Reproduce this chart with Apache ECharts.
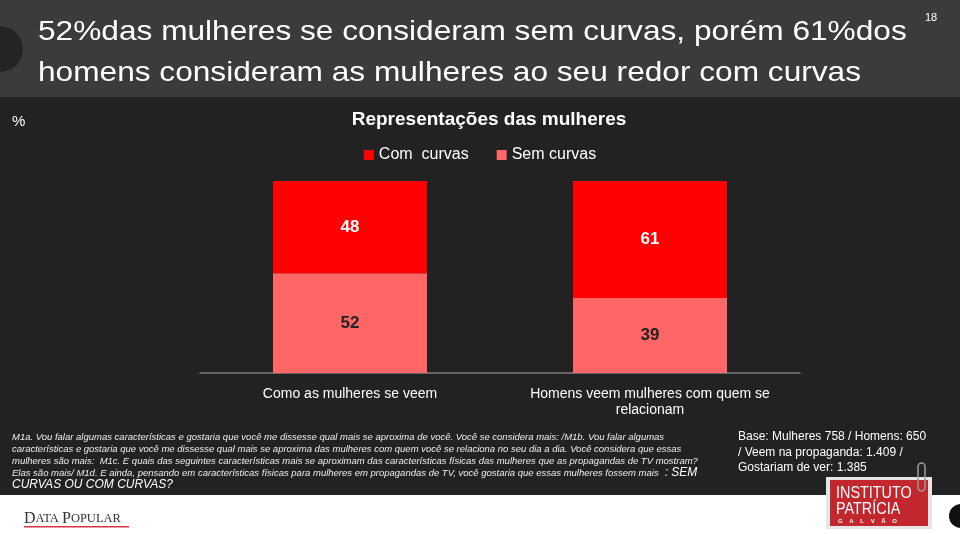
<!DOCTYPE html>
<html>
<head>
<meta charset="utf-8">
<script src="https://cdn.jsdelivr.net/npm/echarts@6/dist/echarts.min.js"></script>
<style>html,body{margin:0;padding:0;background:#222;}#c{width:960px;height:534px;}</style>
</head>
<body>
<div id="c"></div>
<script>
const categories = ['Como as mulheres se veem', 'Homens veem mulheres com quem se\nrelacionam'];
const seriesNames = ['Com  curvas', 'Sem curvas'];
const comCurvas = [48, 61];
const semCurvas = [52, 39];
const headerLines = ['52%das mulheres se consideram sem curvas, porém 61%dos', 'homens consideram as mulheres ao seu redor com curvas'];
const footnoteLines = [
  'M1a. Vou falar algumas características e gostaria que você me dissesse qual mais se aproxima de você. Você se considera mais: /M1b. Vou falar algumas',
  'características e gostaria que você me dissesse qual mais se aproxima das mulheres com quem você se relaciona no seu dia a dia. Você considera que essas',
  'mulheres são mais:  M1c. E quais das seguintes características mais se aproximam das características físicas das mulheres que as propagandas de TV mostram?',
  'Elas são mais/ M1d. E ainda, pensando em características físicas para mulheres em propagandas de TV, você gostaria que essas mulheres fossem mais {b| : SEM}',
  '{b|CURVAS OU COM CURVAS?}'
];
const baseLines = ['Base: Mulheres 758 / Homens: 650', '/ Veem na propaganda: 1.409 /', 'Gostariam de ver: 1.385'];

const chart = echarts.init(document.getElementById('c'));
const F = 'Liberation Sans, Arial, sans-serif';
const graphics = [
  {type:'rect', shape:{x:0,y:0,width:960,height:97}, style:{fill:'#3b3b3b'}, z:-10},
  {type:'rect', shape:{x:0,y:495,width:960,height:39}, style:{fill:'#ffffff'}, z:-10},
  {type:'circle', shape:{cx:0,cy:49,r:23}, style:{fill:'#252525'}},
  {type:'circle', shape:{cx:961,cy:516,r:12}, style:{fill:'#111'}},
  {type:'text', left:925, top:12, style:{text:'18', fill:'#fff', font:'11px '+F}},
  {type:'text', left:12, top:114, style:{text:'%', fill:'#fff', font:'15px '+F}},
  {type:'text', x:38, y:32, scaleX:1.13, style:{text:headerLines[0], fill:'#fff', font:'28px '+F, textVerticalAlign:'middle'}},
  {type:'text', x:38, y:73, scaleX:1.13, style:{text:headerLines[1], fill:'#fff', font:'28px '+F, textVerticalAlign:'middle'}},
  {type:'text', x:738, y:429, style:{text:baseLines.join('\n'), fill:'#fff', font:'12px '+F, lineHeight:15.5}},
  // Instituto Patrícia Galvão logo
  {type:'rect', shape:{x:826,y:477,width:106,height:52}, style:{fill:'#e6e6e6'}},
  {type:'rect', shape:{x:830,y:480,width:98,height:46}, style:{fill:'#c1272d'}},
  {type:'rect', shape:{x:918,y:463,width:7,height:28,r:3.5}, style:{fill:'none', stroke:'#9a9a9a', lineWidth:1.5}},
  {type:'text', x:836, y:494, scaleX:0.9, style:{text:'INSTITUTO', fill:'#fff', font:'16px '+F, textVerticalAlign:'middle'}},
  {type:'text', x:836, y:510, scaleX:0.9, style:{text:'PATRÍCIA', fill:'#fff', font:'16px '+F, textVerticalAlign:'middle'}},
  {type:'text', x:838, y:521, style:{text:'G    A    L    V    Ã    O', fill:'#fff', font:'bold 6px '+F, textVerticalAlign:'middle'}},
  // Data Popular logo
  {type:'text', x:24, y:519, style:{text:'{L|D}{s|ATA }{L|P}{s|OPULAR}', fill:'#333', font:'15px Liberation Serif, serif', textVerticalAlign:'middle',
    rich:{L:{fontSize:16, fontFamily:'Liberation Serif, serif', fill:'#333'}, s:{fontSize:12.5, fontFamily:'Liberation Serif, serif', fill:'#333'}}}},
  {type:'rect', shape:{x:24,y:526,width:105,height:1.5}, style:{fill:'#d9334a'}}
];
footnoteLines.forEach((t,i)=>{
  graphics.push({type:'text', x:12, y:437+i*12, style:{text:t, fill:'#eee', font:'italic 9.5px '+F, textVerticalAlign:'middle',
    rich:{b:{fontSize:12, fontStyle:'italic', fill:'#fff', fontFamily:F}}}});
});

chart.setOption({
  backgroundColor:'#222222',
  animation:false,
  title:{text:'Representações das mulheres', left:484, top:105, textAlign:'center',
    textStyle:{color:'#fff', fontSize:19, fontWeight:'bold', fontFamily:F}},
  legend:{data:seriesNames, top:142, left:'center', itemWidth:10, itemHeight:10, itemGap:28,
    icon:'rect', textStyle:{color:'#fff', fontSize:16, fontFamily:F}},
  grid:{left:200, right:160, top:181, bottom:161},
  xAxis:{type:'category', data:categories,
    axisLine:{lineStyle:{color:'#7f7f7f', width:1.5}}, axisTick:{show:false},
    axisLabel:{color:'#fff', fontSize:14, fontFamily:F, margin:13, lineHeight:16, interval:0}},
  yAxis:{type:'value', min:0, max:100, show:false, splitLine:{show:false}},
  series:[
    {name:seriesNames[1], type:'bar', stack:'a', data:semCurvas, barWidth:154, itemStyle:{color:'#ff6666'},
      label:{show:true, position:'inside', color:'#222', fontSize:17, fontWeight:'bold', fontFamily:F}},
    {name:seriesNames[0], type:'bar', stack:'a', data:comCurvas, barWidth:154, itemStyle:{color:'#ff0000'},
      label:{show:true, position:'inside', color:'#fff', fontSize:17, fontWeight:'bold', fontFamily:F}}
  ],
  graphic:graphics
});
</script>
</body>
</html>
